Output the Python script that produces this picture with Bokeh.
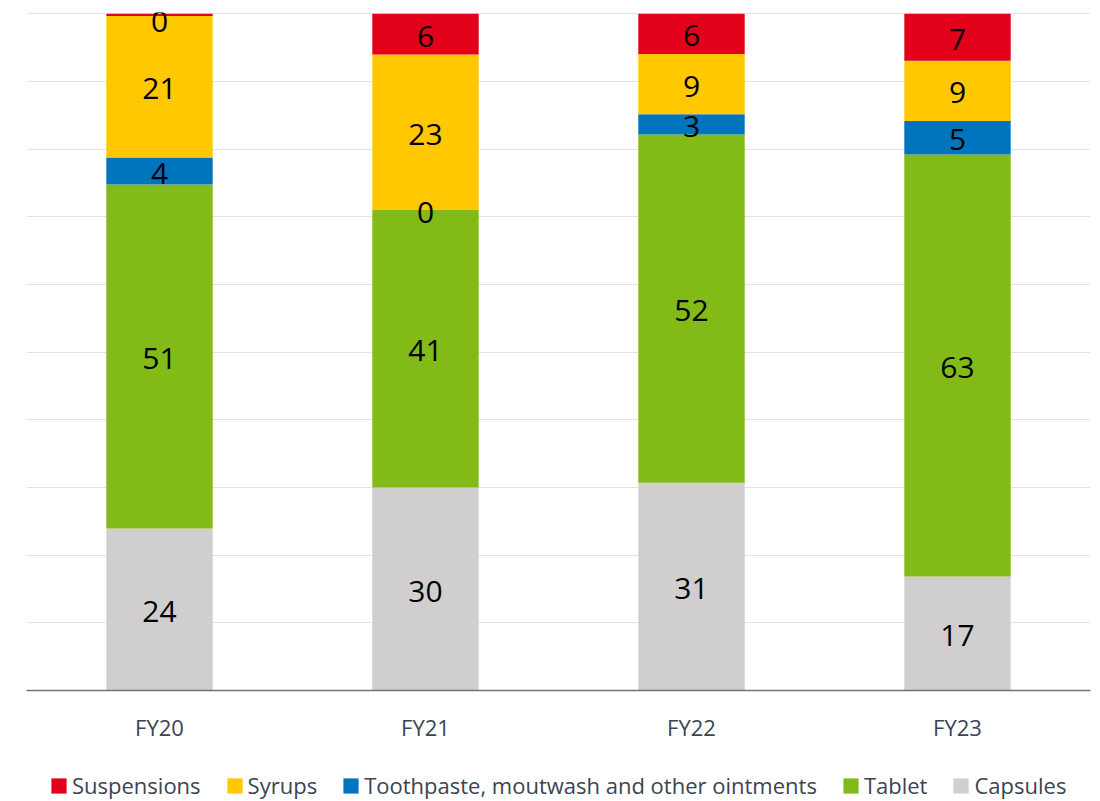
from bokeh.plotting import figure
from bokeh.layouts import column
from bokeh.models import ColumnDataSource, FactorRange, Range1d, FixedTicker, Legend, LegendItem
from bokeh.core.properties import value
from bokeh.embed import file_html
from bokeh.resources import INLINE

# ---- data ----
years = ["FY20", "FY21", "FY22", "FY23"]
capsules = [24, 30, 31, 17]
tablet = [51, 41, 52, 63]
toothpaste = [4, 0, 3, 5]
syrups = [21, 23, 9, 9]
suspensions = [0.3, 6, 6, 7]

series_names = ["Capsules", "Tablet", "Toothpaste, moutwash and other ointments", "Syrups", "Suspensions"]
series_values = [capsules, tablet, toothpaste, syrups, suspensions]
colors = ["#D0CECE", "#82BA18", "#0074BD", "#FFC800", "#E2001A"]
keys = ["cap", "tab", "too", "syr", "sus"]

FONT = "Open Sans"

# 100% stacked: normalize each year
totals = [sum(vals) for vals in zip(*series_values)]
data = {"years": years}
for k, vals in zip(keys, series_values):
    data[k] = [v / t * 100 for v, t in zip(vals, totals)]
source = ColumnDataSource(data)

p = figure(x_range=FactorRange(*years, range_padding=0), y_range=Range1d(0, 100.2),
           width=1100, height=750, output_backend="svg", toolbar_location=None,
           min_border_left=26, min_border_right=10, min_border_top=12, min_border_bottom=60)

renderers = p.vbar_stack(keys, x="years", width=0.4, color=colors, source=source, line_color=None)

# data labels
lx, ly, lt = [], [], []
for i, y in enumerate(years):
    base = 0.0
    for k, vals in zip(keys, series_values):
        h = data[k][i]
        c = min(base + h / 2, 99.1)
        lx.append(y); ly.append(c); lt.append(str(int(round(vals[i]))))
        base += h
p.text(x=lx, y=ly, text=lt, text_align="center", text_baseline="middle",
       text_font=value(FONT), text_font_size="30px", text_color="#000000", y_offset=2)

# axes / grid
p.yaxis.visible = False
p.xgrid.grid_line_color = None
p.ygrid.ticker = FixedTicker(ticks=[0, 10, 20, 30, 40, 50, 60, 70, 80, 90, 100])
p.ygrid.grid_line_color = "#E3E3E3"
p.ygrid.grid_line_width = 1
p.xaxis.axis_line_color = "#6E7378"
p.xaxis.axis_line_width = 1.5
p.xaxis.major_tick_line_color = None
p.xaxis.minor_tick_line_color = None
p.xaxis.major_label_standoff = 15
p.xaxis.major_label_text_font = FONT
p.xaxis.major_label_text_font_size = "22px"
p.xaxis.major_label_text_color = "#3B4452"
p.outline_line_color = None
p.background_fill_color = "white"
p.border_fill_color = "white"

# legend in its own strip below the chart
lg = figure(width=1100, height=51, output_backend="svg", toolbar_location=None,
            x_range=Range1d(0, 1), y_range=Range1d(0, 1),
            min_border_left=0, min_border_right=0, min_border_top=0, min_border_bottom=0)
lg.axis.visible = False
lg.grid.visible = False
lg.outline_line_color = None
# off-screen swatch renderers (only used to draw legend squares)
swatches = [lg.rect(x=[-5], y=[-5], width=0.1, height=0.1, fill_color=c, line_color=None) for c in colors]
items = [LegendItem(label=n, renderers=[r]) for n, r in zip(series_names, swatches)][::-1]
legend = Legend(items=items, orientation="horizontal", location=(23, 1),
                label_text_font=FONT, label_text_font_size="22px", label_text_color="#3B4452",
                glyph_width=19, glyph_height=19, label_standoff=4, spacing=24,
                border_line_color=None, background_fill_alpha=0, padding=0, margin=0,
                label_height=20)
lg.add_layout(legend, "center")

layout = column(p, lg, spacing=0)
open("out.html", "w").write(file_html(layout, INLINE))
